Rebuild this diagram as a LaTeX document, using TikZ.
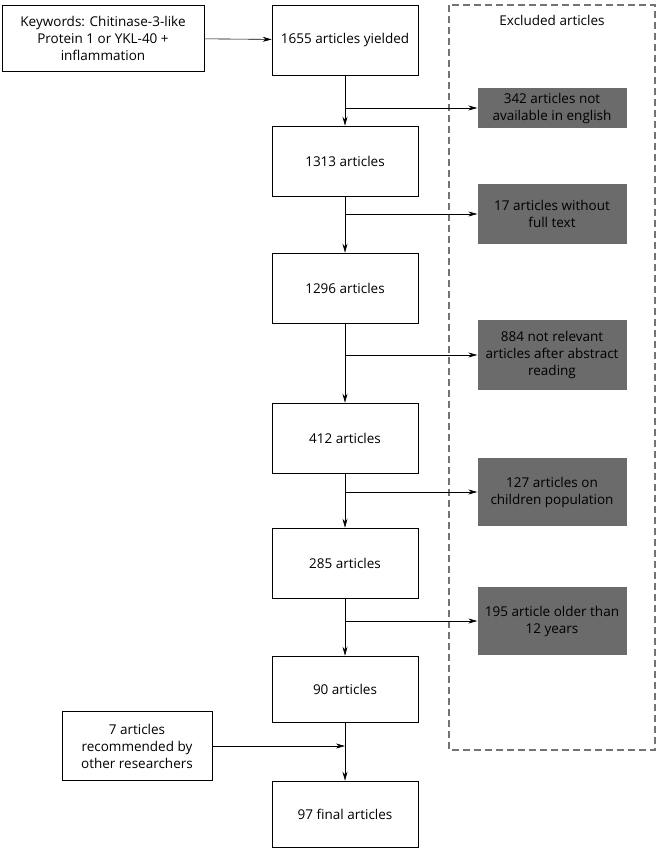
\documentclass[tikz,border=0pt]{standalone}
\usepackage{fontspec}
\setmainfont{Open Sans}
\usetikzlibrary{arrows.meta}
\begin{document}
\begin{tikzpicture}[x=1pt,y=-1pt,
  mainbox/.style={draw,semithick,minimum width=146pt,minimum height=70pt,align=center,font=\fontsize{13.5}{17}\selectfont},
  sidebox/.style={draw,semithick,align=center,font=\fontsize{13.5}{17}\selectfont},
  exbox/.style={fill=black!58,minimum width=149pt,align=center,font=\fontsize{13.5}{17}\selectfont},
  arr/.style={-{Stealth[length=9pt,width=5pt]},semithick}]
\useasboundingbox (0,0) rectangle (659,850);
\node[mainbox] (a1) at (345,40) {1655 articles yielded};
\node[mainbox] (a2) at (345,161) {1313 articles};
\node[mainbox] (a3) at (345,288) {1296 articles};
\node[mainbox] (a4) at (345,438) {412 articles};
\node[mainbox] (a5) at (345,563) {285 articles};
\node[mainbox,minimum height=66pt] (a6) at (345,689) {90 articles};
\node[mainbox,minimum height=66pt] (a7) at (345,814) {97 final articles};
\node[sidebox,minimum width=202pt,minimum height=66pt] (k) at (103,38) {Keywords: Chitinase-3-like\\Protein 1 or YKL-40 +\\inflammation};
\node[sidebox,minimum width=150pt,minimum height=69pt] (r) at (137,746) {7 articles\\recommended by\\other researchers};
\draw[black!55,line width=2pt,dash pattern=on 7pt off 4pt] (449,5) rectangle (655,750);
\node[font=\fontsize{13.5}{17}\selectfont] (ex) at (552,20) {Excluded articles};
\node[exbox,minimum height=40pt] (e1) at (552,108) {342 articles not\\available in english};
\node[exbox,minimum height=60pt] (e2) at (552,214) {17 articles without\\full text};
\node[exbox,minimum height=70pt] (e3) at (552,355) {884 not relevant\\articles after abstract\\reading};
\node[exbox,minimum height=68pt] (e4) at (552,492) {127 articles on\\children population};
\node[exbox,minimum height=68pt] (e5) at (552,621) {195 article older than\\12 years};
\draw[arr] (k) -- (a1);
\foreach \a/\b/\e in {a1/a2/e1,a2/a3/e2,a3/a4/e3,a4/a5/e4,a5/a6/e5}{
  \draw[arr] (\a) -- (\b);
  \coordinate (j) at (\a.south |- \e.west);
  \draw[arr] (j) -- (\e.west);
}
\draw[arr] (a6) -- (a7);
\coordinate (jr) at (a6.south |- r.east);
\draw[arr] (r.east) -- (jr);
\end{tikzpicture}
\end{document}
